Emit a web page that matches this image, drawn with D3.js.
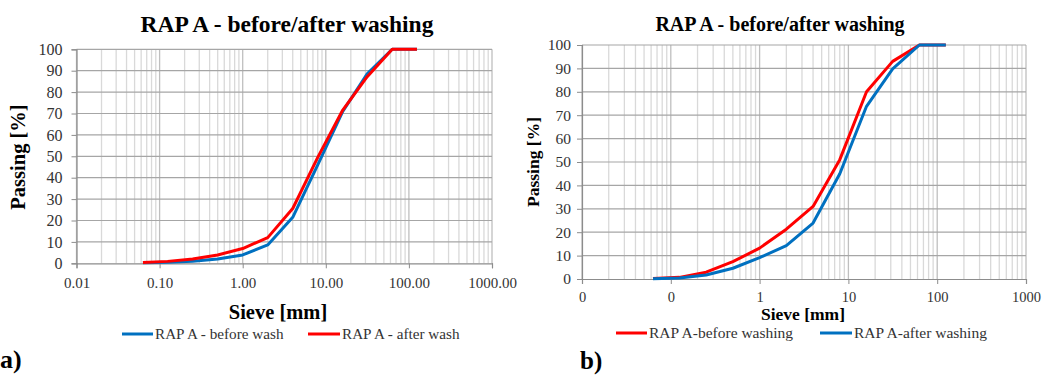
<!DOCTYPE html>
<html>
<head>
<meta charset="utf-8">
<script src="https://cdn.jsdelivr.net/npm/d3@7"></script>
<style>
  html, body { margin: 0; padding: 0; background: #fff; }
  svg { display: block; font-family: "Liberation Serif", "Times New Roman", serif; }
</style>
</head>
<body>
<svg id="chart" width="1046" height="376"></svg>
<script>
// ---- data ----
const sieveSizes = [0.063, 0.125, 0.25, 0.5, 1, 2, 4, 8, 16, 31.5, 63, 125];
const aBeforeWash = [0.2, 0.5, 1.0, 2.0, 3.9, 8.6, 21.5, 46, 71, 88.5, 100, 100];
const aAfterWash  = [0.4, 0.9, 2.0, 3.9, 6.9, 12, 25.6, 49.5, 71.6, 87.2, 100, 100];
const bBeforeWashing = [0.2, 0.7, 2.9, 7.4, 13.2, 21.3, 31, 51, 80, 93, 100, 100];
const bAfterWashing  = [0.1, 0.4, 1.7, 4.6, 9.1, 14.3, 23.9, 45, 73.8, 89.8, 100, 100];
const xDecades = [0.01, 0.1, 1, 10, 100, 1000];
const aXTickLabels = ["0.01", "0.10", "1.00", "10.00", "100.00", "1000.00"];
const bXTickLabels = ["0", "0", "1", "10", "100", "1000"];
const yTicks = [0, 10, 20, 30, 40, 50, 60, 70, 80, 90, 100];
const titleText = "RAP A - before/after washing";
const aSeriesNames = ["RAP A - before wash", "RAP A - after wash"];
const bSeriesNames = ["RAP A-before washing", "RAP A-after washing"];

const RED = "#ff0000", BLUE = "#0070c0";
const svg = d3.select("#chart");

function drawPanel(p) {
  const g = svg.append("g");
  const x = d3.scaleLog().domain([0.01, 1000]).range([p.left, p.right]);
  const y = d3.scaleLinear().domain([0, 100]).range([p.bottom, p.top]);

  // vertical grid (minor + major)
  const allX = x.ticks();
  g.append("g").selectAll("line").data(allX).join("line")
    .attr("x1", d => x(d)).attr("x2", d => x(d))
    .attr("y1", p.top).attr("y2", p.bottom)
    .attr("stroke", d => xDecades.includes(+d.toPrecision(6)) ? "#bfbfbf" : "#d9d9d9")
    .attr("stroke-width", 1.3);
  // horizontal grid
  g.append("g").selectAll("line").data(yTicks.slice(1)).join("line")
    .attr("x1", p.left).attr("x2", p.right)
    .attr("y1", d => y(d)).attr("y2", d => y(d))
    .attr("stroke", "#a6a6a6").attr("stroke-width", 1.2);

  // axes
  const xAxis = d3.axisBottom(x).tickValues(xDecades)
    .tickFormat((d, i) => p.xLabels[i]).tickSize(5).tickPadding(p.xPad);
  const gx = g.append("g").attr("transform", `translate(0,${p.bottom})`).call(xAxis);
  gx.attr("font-family", null);
  gx.select(".domain").attr("stroke", "#8c8c8c").attr("stroke-width", 1.2);
  gx.selectAll(".tick line").attr("stroke", "#8c8c8c");
  gx.selectAll("text").attr("font-size", p.xFont).attr("fill", "#333")
    .attr("font-family", "Liberation Serif");

  const yAxis = d3.axisLeft(y).tickValues(yTicks).tickSize(5).tickPadding(p.yPad);
  const gy = g.append("g").attr("transform", `translate(${p.left},0)`).call(yAxis);
  gy.attr("font-family", null);
  gy.select(".domain").attr("stroke", "#8c8c8c").attr("stroke-width", 1.2);
  gy.selectAll(".tick line").attr("stroke", "#8c8c8c");
  gy.selectAll("text").attr("font-size", p.yFont).attr("fill", "#333")
    .attr("font-family", "Liberation Serif");

  // series
  const line = d3.line().x((d, i) => x(sieveSizes[i])).y(d => y(d));
  p.series.forEach(s => {
    g.append("path").datum(s.values).attr("d", line)
      .attr("fill", "none").attr("stroke", s.color).attr("stroke-width", 3)
      .attr("stroke-linejoin", "round");
  });

  // title
  g.append("text").attr("x", p.titleX).attr("y", p.titleY)
    .attr("text-anchor", "middle").attr("font-weight", "bold")
    .attr("font-size", p.titleFont).attr("fill", "#000").text(titleText);
  // x axis title
  g.append("text").attr("x", p.xTitleX).attr("y", p.xTitleY)
    .attr("text-anchor", "middle").attr("font-weight", "bold")
    .attr("font-size", p.axisFont).attr("fill", "#000").text("Sieve [mm]");
  // y axis title
  g.append("text").attr("transform", `translate(${p.yTitleX},${p.yTitleY}) rotate(-90)`)
    .attr("text-anchor", "middle").attr("font-weight", "bold")
    .attr("font-size", p.yAxisFont).attr("fill", "#000").text("Passing [%]");

  // legend
  p.legend.forEach(l => {
    g.append("line").attr("x1", l.x).attr("x2", l.x + l.len)
      .attr("y1", p.legendY).attr("y2", p.legendY)
      .attr("stroke", l.color).attr("stroke-width", 3);
    g.append("text").attr("x", l.x + l.len + 2).attr("y", p.legendY + p.legendFont * 0.33)
      .attr("font-size", p.legendFont).attr("fill", "#333").text(l.name);
  });

  // panel letter
  g.append("text").attr("x", p.letterX).attr("y", p.letterY)
    .attr("font-weight", "bold").attr("font-size", p.letterFont).attr("fill", "#000").text(p.letter);
}

drawPanel({
  left: 76.5, right: 492, top: 49.3, bottom: 263.3,
  xLabels: aXTickLabels, xFont: 15, yFont: 16, xPad: 9, yPad: 9,
  series: [
    { values: aBeforeWash, color: BLUE },
    { values: aAfterWash, color: RED }
  ],
  titleX: 287, titleY: 32, titleFont: 23.5,
  xTitleX: 278, xTitleY: 319, axisFont: 20.5, yAxisFont: 20.5,
  yTitleX: 25, yTitleY: 157,
  legendY: 334, legendFont: 15.2,
  legend: [
    { x: 122, len: 31, color: BLUE, name: aSeriesNames[0] },
    { x: 308, len: 32, color: RED, name: aSeriesNames[1] }
  ],
  letter: "a)", letterX: 0, letterY: 368, letterFont: 26
});

drawPanel({
  left: 582, right: 1026, top: 45, bottom: 279,
  xLabels: bXTickLabels, xFont: 14.5, yFont: 15.5, xPad: 8, yPad: 6,
  series: [
    { values: bBeforeWashing, color: RED },
    { values: bAfterWashing, color: BLUE }
  ],
  titleX: 780, titleY: 31, titleFont: 20,
  xTitleX: 803, xTitleY: 320, axisFont: 17.5, yAxisFont: 17.5,
  yTitleX: 539, yTitleY: 162,
  legendY: 333, legendFont: 15.5,
  legend: [
    { x: 616, len: 31, color: RED, name: bSeriesNames[0] },
    { x: 820, len: 32, color: BLUE, name: bSeriesNames[1] }
  ],
  letter: "b)", letterX: 580, letterY: 369, letterFont: 25
});
</script>
</body>
</html>
